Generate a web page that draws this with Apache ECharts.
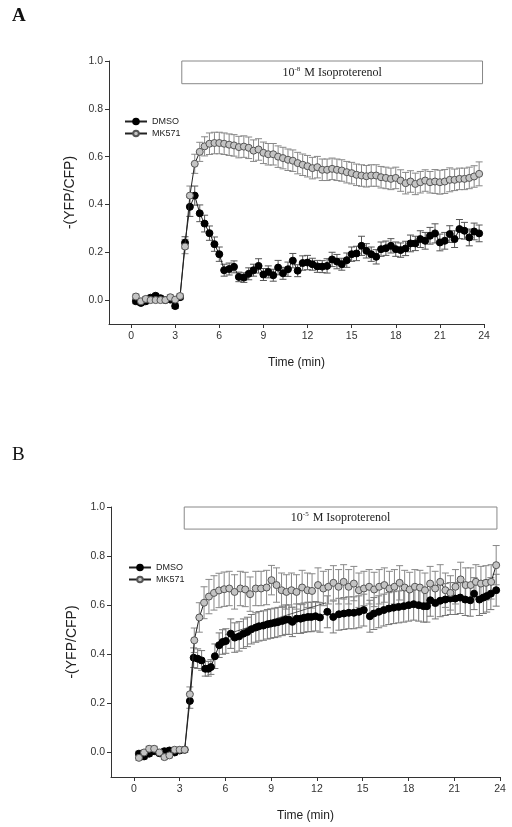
<!DOCTYPE html>
<html>
<head>
<meta charset="utf-8">
<script src="https://cdn.jsdelivr.net/npm/echarts@6/dist/echarts.min.js"></script>
<style>html,body{margin:0;padding:0;background:#fff;}#chart{width:512px;height:827px;}</style>
</head>
<body>
<div id="chart"></div>
<script>
// ---------- Panel A (10^-8 M Isoproterenol) ----------
const timeA = [0.33,0.67,1.00,1.33,1.67,2.00,2.33,2.67,3.00,3.33,
  3.67,4.00,4.33,4.67,5.00,5.33,5.67,6.00,6.33,6.67,
  7.00,7.33,7.67,8.00,8.33,8.67,9.00,9.33,9.67,10.00,
  10.33,10.67,11.00,11.33,11.67,12.00,12.33,12.67,13.00,13.33,
  13.67,14.00,14.33,14.67,15.00,15.33,15.67,16.00,16.33,16.67,
  17.00,17.33,17.67,18.00,18.33,18.67,19.00,19.33,19.67,20.00,
  20.33,20.67,21.00,21.33,21.67,22.00,22.33,22.67,23.00,23.33,
  23.67];
const dmsoA = [-0.005,-0.012,-0.005,0.010,0.018,0.008,0.000,0.002,-0.025,0.012,
  0.240,0.390,0.437,0.363,0.320,0.280,0.234,0.192,0.125,0.130,
  0.139,0.097,0.094,0.110,0.125,0.143,0.107,0.118,0.104,0.136,
  0.112,0.129,0.165,0.123,0.155,0.157,0.150,0.141,0.140,0.143,
  0.170,0.161,0.150,0.167,0.192,0.195,0.227,0.206,0.192,0.181,
  0.213,0.217,0.227,0.213,0.209,0.216,0.237,0.237,0.255,0.248,
  0.269,0.279,0.241,0.248,0.276,0.255,0.297,0.290,0.262,0.287,
  0.279];
const dmsoErrA = [0.01,0.01,0.01,0.01,0.01,0.01,0.01,0.01,0.01,0.01,
  0.025,0.04,0.04,0.035,0.035,0.03,0.03,0.03,0.025,0.025,
  0.025,0.02,0.02,0.025,0.025,0.03,0.025,0.025,0.025,0.03,
  0.025,0.03,0.03,0.025,0.03,0.03,0.025,0.025,0.025,0.03,
  0.03,0.03,0.025,0.03,0.03,0.03,0.04,0.03,0.03,0.03,
  0.03,0.03,0.03,0.03,0.03,0.03,0.035,0.03,0.035,0.035,
  0.035,0.04,0.035,0.035,0.035,0.035,0.04,0.035,0.035,0.035,
  0.035];
const mk571A = [0.015,-0.005,0.005,0.000,0.000,0.000,0.000,0.012,0.002,0.017,
  0.224,0.437,0.570,0.620,0.643,0.654,0.657,0.657,0.654,0.650,
  0.647,0.640,0.642,0.637,0.625,0.630,0.616,0.610,0.610,0.600,
  0.594,0.587,0.583,0.573,0.566,0.560,0.552,0.556,0.545,0.545,
  0.549,0.545,0.542,0.535,0.531,0.524,0.521,0.518,0.521,0.521,
  0.514,0.511,0.507,0.511,0.500,0.489,0.496,0.486,0.493,0.500,
  0.493,0.496,0.493,0.496,0.503,0.503,0.507,0.507,0.511,0.517,
  0.528];
const mk571ErrA = [0.01,0.01,0.01,0.01,0.01,0.01,0.01,0.01,0.01,0.01,
  0.03,0.04,0.04,0.04,0.04,0.045,0.045,0.045,0.045,0.045,
  0.045,0.045,0.045,0.045,0.045,0.045,0.045,0.045,0.045,0.045,
  0.045,0.045,0.045,0.045,0.045,0.045,0.045,0.045,0.045,0.045,
  0.045,0.045,0.045,0.045,0.045,0.045,0.045,0.045,0.045,0.045,
  0.045,0.045,0.045,0.045,0.045,0.045,0.045,0.045,0.045,0.045,
  0.045,0.05,0.05,0.05,0.05,0.045,0.045,0.045,0.045,0.045,
  0.05];

// ---------- Panel B (10^-5 M Isoproterenol) ----------
const timeDmsoB = [0.33,0.67,1.00,1.33,1.67,2.00,2.33,2.67,3.00,3.33,
  3.67,3.92,4.18,4.44,4.68,4.88,5.05,5.31,5.59,5.81,
  6.03,6.35,6.61,6.90,7.18,7.44,7.70,7.99,8.20,8.49,
  8.75,8.97,9.23,9.45,9.73,9.95,10.17,10.39,10.67,10.93,
  11.15,11.41,11.63,11.91,12.20,12.68,13.07,13.44,13.77,14.09,
  14.42,14.75,15.07,15.47,15.73,16.05,16.38,16.71,17.03,17.36,
  17.69,18.01,18.34,18.67,18.99,19.21,19.43,19.76,20.08,20.41,
  20.74,21.06,21.39,21.72,22.05,22.30,22.65,22.91,23.13,23.40,
  23.75];
const dmsoB = [-0.005,-0.016,-0.005,0.005,-0.003,0.005,0.008,0.000,0.008,0.011,
  0.210,0.386,0.382,0.375,0.341,0.341,0.348,0.392,0.437,0.450,
  0.454,0.484,0.468,0.473,0.484,0.491,0.502,0.509,0.514,0.517,
  0.522,0.525,0.528,0.531,0.536,0.541,0.541,0.532,0.545,0.545,
  0.549,0.552,0.552,0.555,0.550,0.573,0.552,0.563,0.566,0.569,
  0.569,0.573,0.580,0.555,0.566,0.573,0.580,0.586,0.590,0.593,
  0.596,0.600,0.604,0.600,0.596,0.596,0.620,0.609,0.618,0.623,
  0.627,0.627,0.631,0.623,0.620,0.647,0.623,0.631,0.637,0.647,
  0.661];
const dmsoErrB = [0.01,0.01,0.01,0.01,0.01,0.01,0.01,0.01,0.01,0.01,
  0.03,0.04,0.04,0.04,0.03,0.03,0.03,0.05,0.05,0.05,
  0.05,0.06,0.06,0.06,0.06,0.06,0.06,0.06,0.06,0.06,
  0.06,0.06,0.06,0.06,0.06,0.06,0.06,0.06,0.06,0.06,
  0.06,0.06,0.06,0.06,0.06,0.065,0.065,0.065,0.065,0.065,
  0.065,0.065,0.065,0.065,0.065,0.065,0.065,0.065,0.065,0.065,
  0.065,0.065,0.065,0.065,0.065,0.065,0.065,0.065,0.065,0.065,
  0.065,0.065,0.065,0.065,0.065,0.065,0.065,0.065,0.065,0.065,
  0.065];
const timeMk571B = [0.33,0.67,1.00,1.33,1.67,2.00,2.33,2.67,3.00,3.33,
  3.67,3.96,4.29,4.60,4.92,5.25,5.58,5.92,6.25,6.60,
  6.98,7.30,7.62,7.99,8.34,8.70,9.02,9.35,9.68,10.00,
  10.33,10.66,11.03,11.38,11.68,12.07,12.42,12.75,13.08,13.42,
  13.75,14.08,14.42,14.75,15.08,15.42,15.75,16.08,16.42,16.75,
  17.08,17.42,17.75,18.08,18.42,18.75,19.08,19.42,19.75,20.08,
  20.42,20.75,21.08,21.42,21.75,22.08,22.42,22.75,23.08,23.42,
  23.75];
const mk571B = [-0.022,0.000,0.015,0.015,0.000,-0.019,-0.012,0.011,0.011,0.011,
  0.237,0.457,0.550,0.610,0.635,0.650,0.660,0.665,0.668,0.654,
  0.668,0.664,0.645,0.668,0.668,0.672,0.702,0.682,0.661,0.654,
  0.661,0.654,0.672,0.661,0.658,0.682,0.668,0.675,0.691,0.675,
  0.695,0.675,0.688,0.661,0.668,0.675,0.664,0.675,0.682,0.668,
  0.675,0.691,0.672,0.664,0.675,0.672,0.661,0.688,0.668,0.695,
  0.661,0.650,0.675,0.705,0.682,0.682,0.695,0.688,0.691,0.695,
  0.763];
const mk571ErrB = [0.01,0.01,0.01,0.01,0.01,0.01,0.01,0.01,0.01,0.01,
  0.03,0.05,0.06,0.065,0.07,0.07,0.07,0.07,0.07,0.07,
  0.07,0.07,0.07,0.07,0.07,0.07,0.06,0.07,0.07,0.07,
  0.07,0.07,0.07,0.07,0.07,0.07,0.07,0.07,0.07,0.07,
  0.07,0.07,0.07,0.07,0.07,0.07,0.07,0.07,0.07,0.07,
  0.07,0.07,0.07,0.07,0.07,0.07,0.07,0.07,0.07,0.07,
  0.07,0.07,0.07,0.07,0.07,0.07,0.07,0.07,0.07,0.07,
  0.08];
// stray connector visible in panel B
const strayTimeB = [6.0, 12.6];
const strayValB = [0.48, 0.61];

// ---------- axes / annotation ----------
const xTicks = [0,3,6,9,12,15,18,21,24];
const yTicks = [0.0,0.2,0.4,0.6,0.8,1.0];
const seriesNames = ['DMSO','MK571'];
const boxAX = [3.45, 23.9], boxAY = [0.905, 1.0], expA = '-8';
const boxBX = [3.3, 23.8], boxBY = [0.91, 1.0], expB = '-5';

const chart = echarts.init(document.getElementById('chart'), null, {renderer:'canvas'});
const SANS = 'Liberation Sans, Arial, sans-serif';
const SERIF = 'Liberation Serif, Times New Roman, serif';
const axisColor = '#333';

function xAx(i){
  return {gridIndex:i, type:'value', min:-1.5, max:24,
    axisLine:{show:true, onZero:false, lineStyle:{color:axisColor, width:1}},
    axisTick:{show:true, customValues:xTicks, length:4, lineStyle:{color:axisColor}},
    axisLabel:{customValues:xTicks, fontSize:10.5, color:'#333', fontFamily:SANS, margin:7},
    splitLine:{show:false},
    name:'Time (min)', nameLocation:'middle', nameGap:33,
    nameTextStyle:{fontSize:12, color:'#222', fontFamily:SANS}};
}
function yAx(i){
  return {gridIndex:i, type:'value', min:-0.1, max:1.0,
    axisLine:{show:true, onZero:false, lineStyle:{color:axisColor, width:1}},
    axisTick:{show:true, customValues:yTicks, length:4, lineStyle:{color:axisColor}},
    axisLabel:{customValues:yTicks, fontSize:10.5, color:'#333', fontFamily:SANS, margin:6,
      formatter:v=>v.toFixed(1)},
    splitLine:{show:false},
    name:'-(YFP/CFP)', nameLocation:'middle', nameGap:27, nameRotate:90,
    nameTextStyle:{fontSize:14, color:'#222', fontFamily:SANS}};
}
function errSeries(gi, t, v, e, color){
  return {type:'custom', xAxisIndex:gi, yAxisIndex:gi, silent:true, z:1, clip:false,
    data:t.map((x,i)=>[x, v[i]-e[i], v[i]+e[i]]),
    encode:{x:0, y:[1,2]},
    renderItem:(params, api)=>{
      const x = api.value(0);
      const p1 = api.coord([x, api.value(2)]);
      const p2 = api.coord([x, api.value(1)]);
      const hw = 3.5;
      const st = {stroke:color, lineWidth:1};
      return {type:'group', children:[
        {type:'line', shape:{x1:p1[0], y1:p1[1], x2:p2[0], y2:p2[1]}, style:st},
        {type:'line', shape:{x1:p1[0]-hw, y1:p1[1], x2:p1[0]+hw, y2:p1[1]}, style:st},
        {type:'line', shape:{x1:p2[0]-hw, y1:p2[1], x2:p2[0]+hw, y2:p2[1]}, style:st}
      ]};
    }};
}
function lineSeries(name, gi, t, v, itemStyle, z){
  return {name, type:'line', xAxisIndex:gi, yAxisIndex:gi, z,
    data:t.map((x,i)=>[x, v[i]]),
    symbol:'circle', symbolSize:7, showSymbol:true,
    lineStyle:{color:'#222', width:1},
    itemStyle, emphasis:{disabled:true}};
}
const dmsoStyle = {color:'#000', borderColor:'#000', borderWidth:1};
const mkStyle = {color:'#c4c4c4', borderColor:'#555', borderWidth:1};
function boxArea(bx, by, exp){
  return {silent:true,
    itemStyle:{color:'rgba(255,255,255,0)', borderColor:'#888', borderWidth:1},
    label:{show:true, position:'inside',
      formatter:'{n|10}{s|' + exp + '}{n| M Isoproterenol}',
      rich:{n:{fontFamily:SERIF, fontSize:12, color:'#222'},
            s:{fontFamily:SERIF, fontSize:7, color:'#222', padding:[0,1,7,0]}}},
    data:[[{xAxis:bx[0], yAxis:by[0]}, {xAxis:bx[1], yAxis:by[1]}]]};
}

const dA = lineSeries(seriesNames[0], 0, timeA, dmsoA, dmsoStyle, 3);
dA.markArea = boxArea(boxAX, boxAY, expA);
const dB = lineSeries(seriesNames[0], 1, timeDmsoB, dmsoB, dmsoStyle, 3);
dB.markArea = boxArea(boxBX, boxBY, expB);

const legendBase = {orient:'vertical', itemWidth:22, itemHeight:7, itemGap:3,
  textStyle:{fontSize:9, color:'#222', fontFamily:SANS}, data:seriesNames, selectedMode:false};

chart.setOption({
  animation:false,
  backgroundColor:'#fff',
  title:[
    {text:'A', left:7, top:2, textStyle:{fontFamily:SERIF, fontWeight:'bold', fontSize:19, color:'#111'}},
    {text:'B', left:7, top:441, textStyle:{fontFamily:SERIF, fontWeight:'normal', fontSize:19, color:'#111'}}
  ],
  legend:[
    Object.assign({left:119, top:112}, legendBase),
    Object.assign({left:123, top:558}, legendBase)
  ],
  grid:[
    {left:109, top:61, width:375, height:263},
    {left:111, top:507, width:389, height:270}
  ],
  xAxis:[xAx(0), xAx(1)],
  yAxis:[yAx(0), yAx(1)],
  series:[
    errSeries(0, timeA, dmsoA, dmsoErrA, '#555'),
    errSeries(0, timeA, mk571A, mk571ErrA, '#888'),
    dA,
    lineSeries(seriesNames[1], 0, timeA, mk571A, mkStyle, 4),
    errSeries(1, timeDmsoB, dmsoB, dmsoErrB, '#777'),
    errSeries(1, timeMk571B, mk571B, mk571ErrB, '#888'),
    {type:'line', xAxisIndex:1, yAxisIndex:1, z:2, silent:true, symbol:'none',
      data:strayTimeB.map((x,i)=>[x, strayValB[i]]), lineStyle:{color:'#333', width:0.8}},
    dB,
    lineSeries(seriesNames[1], 1, timeMk571B, mk571B, mkStyle, 4)
  ]
});
</script>
</body>
</html>
